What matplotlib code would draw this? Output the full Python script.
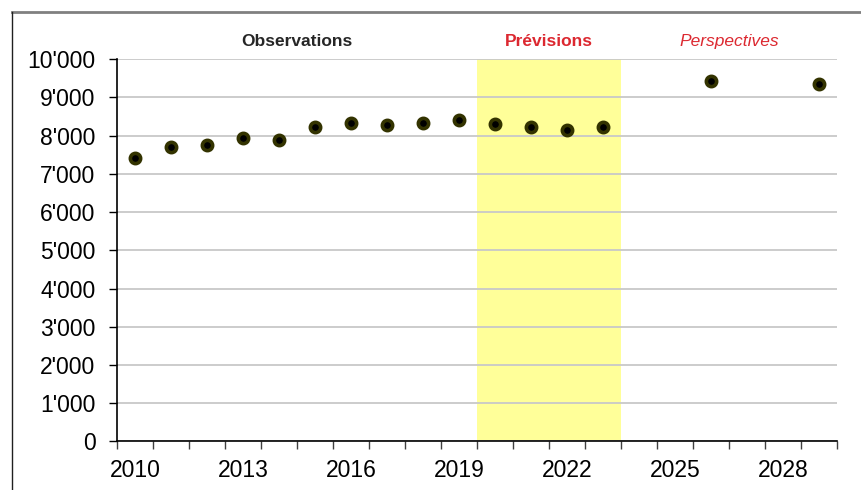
import matplotlib
matplotlib.use('Agg')
import matplotlib.pyplot as plt
from matplotlib.ticker import FuncFormatter, FixedLocator
from matplotlib.lines import Line2D

plt.rcParams['font.family'] = ['Liberation Sans', 'DejaVu Sans']

# données
years = [2010, 2011, 2012, 2013, 2014, 2015, 2016, 2017, 2018, 2019,
         2020, 2021, 2022, 2023, 2026, 2029]
values = [7410, 7695, 7755, 7950, 7895, 8235, 8320, 8280, 8325, 8410,
          8305, 8235, 8150, 8235, 9440, 9345]
tick_years = [2010, 2013, 2016, 2019, 2022, 2025, 2028]
prev_start, prev_end = 2020, 2023

fig = plt.figure(figsize=(8.62, 4.90), dpi=100)
ax = fig.add_axes([117/862, 1-441.3/490, 720/862, 382/490])

# zone des prévisions
ax.axvspan(prev_start - 0.5, prev_end + 0.5, ymin=0, ymax=1, color='#ffff99', zorder=0, lw=0)

ax.plot(years, values, 'o', ms=7.4, mfc='black', mec='#333300', mew=2.6, zorder=3, clip_on=False)

ax.set_xlim(2009.5, 2029.5)
ax.set_ylim(0, 10000)
ax.set_yticks(range(0, 10001, 1000))
ax.yaxis.set_major_formatter(FuncFormatter(lambda v, p: f"{int(v):,}".replace(',', "'")))
ax.grid(axis='y', color='#c8c8c8', lw=1.3, zorder=1)
ax.set_axisbelow(True)

# ticks aux limites des années, étiquettes au centre
ax.xaxis.set_major_locator(FixedLocator([y + 0.5 for y in range(2009, 2030)]))
ax.xaxis.set_major_formatter(FuncFormatter(lambda v, p: ''))
ax.xaxis.set_minor_locator(FixedLocator(tick_years))
ax.xaxis.set_minor_formatter(FuncFormatter(lambda v, p: str(int(round(v)))))
ax.tick_params(axis='x', which='major', length=6, width=1, color='#404040', direction='out')
ax.tick_params(axis='x', which='minor', length=0, pad=13, labelsize=16.5)
ax.tick_params(axis='y', length=6, width=1, direction='out', pad=9.5, labelsize=16.5)

for s in ['top', 'right']:
    ax.spines[s].set_visible(False)
ax.spines['left'].set_linewidth(1.2)
ax.spines['bottom'].set_linewidth(1.2)

ax.text(2014.5, 1.047, 'Observations', transform=ax.get_xaxis_transform(),
        ha='center', va='center', fontsize=12.5, fontweight='bold', color='#262626')
ax.text(2021.5, 1.047, 'Prévisions', transform=ax.get_xaxis_transform(),
        ha='center', va='center', fontsize=12.5, fontweight='bold', color='#dc2830')
ax.text(2026.5, 1.047, 'Perspectives', transform=ax.get_xaxis_transform(),
        ha='center', va='center', fontsize=12.5, fontstyle='italic', color='#dc2830')

# cadre
fig.add_artist(Line2D([12/862, 1], [1-12/490, 1-12/490], color='#808080', lw=2))
fig.add_artist(Line2D([12/862, 12/862], [0, 1-12/490], color='#202020', lw=1))

plt.savefig('out.png', dpi=100)
